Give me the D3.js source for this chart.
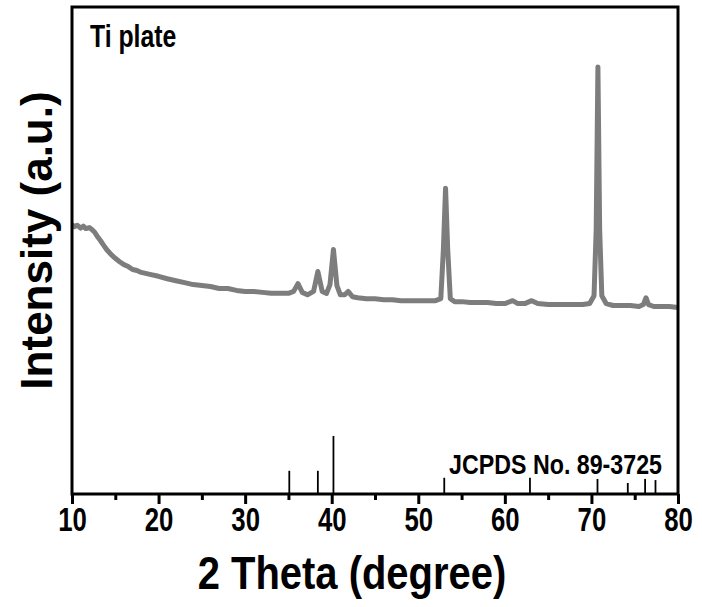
<!DOCTYPE html>
<html>
<head>
<meta charset="utf-8">
<script src="https://cdn.jsdelivr.net/npm/d3@7"></script>
<style>
  body { margin: 0; background: #fff; }
  text { font-family: "Liberation Sans", Arial, sans-serif; font-weight: bold; }
</style>
</head>
<body>
<svg id="chart" width="702" height="607"></svg>
<script>
"use strict";

//// data
const twoTheta = [10.0, 10.3, 10.6, 11.0, 11.3, 11.6, 12.0, 12.3, 12.6, 13.0, 13.3, 13.6, 14.0, 14.5, 15.0, 15.5, 16.0, 16.5, 17.0, 17.5, 18.0,
    19.0, 20.0, 21.0, 22.0, 23.0, 24.0, 25.0, 26.0, 27.0, 28.0, 29.0, 30.0, 31.0, 32.0, 33.0, 34.0, 35.0,
    35.6, 36.1, 36.6, 37.2, 37.9, 38.4, 38.9, 39.4, 39.8, 40.2, 40.6, 41.0, 41.5, 41.9, 42.4,
    43.0, 44.0, 45.0, 46.0, 47.0, 48.0, 49.0, 50.0, 51.0, 52.0, 52.6, 52.9, 53.15, 53.4, 53.7, 54.2,
    55.0, 56.0, 57.0, 58.0, 59.0, 60.0, 60.9, 61.5, 62.3, 63.1, 63.8, 65.0, 66.0, 67.0, 68.0, 69.0,
    69.8, 70.3, 70.55, 70.75, 70.95, 71.2, 71.7, 72.5, 73.5, 74.5, 75.5, 76.0, 76.3, 76.6, 77.2, 78.0, 79.0, 80.0];
const intensity = [553, 549, 552, 546, 550, 545, 547, 543, 538, 527, 520, 512, 502, 492, 484, 477, 471, 467, 461, 459, 455,
    451, 447, 442, 438, 434, 430, 428, 426, 422, 422, 418, 416, 416, 414, 412, 412, 412,
    416, 432, 414, 409, 416, 457, 416, 412, 430, 502, 428, 409, 409, 416, 405,
    403, 401, 401, 399, 399, 397, 397, 397, 397, 397, 401, 502, 628, 502, 401, 395,
    395, 393, 393, 393, 391, 391, 397, 391, 391, 397, 391, 389, 389, 389, 389, 389,
    391, 407, 543, 877, 543, 407, 391, 387, 387, 387, 385, 389, 403, 389, 385, 385, 385, 383];

// JCPDS No. 89-3725 reference lines (relative intensity)
const refAngles = [35.1, 38.4, 40.2, 53.0, 62.9, 70.7, 74.2, 76.2, 77.4];
const refIntensity = [40, 40, 100, 28, 28, 26, 19, 26, 24];

const xTicks = [10, 20, 30, 40, 50, 60, 70, 80];
const xMinorTicks = [15, 25, 35, 45, 55, 65, 75];

(function () {
    //// layout
    const svg = d3.select("#chart");
    const left = 72, right = 678, top = 7, bottom = 494;
    const narrow = 0.78; // condensed look of the bold labels

    const x = d3.scaleLinear().domain([10, 80]).range([left, right]);
    const y = d3.scaleLinear().domain([0, 1000]).range([bottom, top]);
    const yRef = d3.scaleLinear().domain([0, 100]).range([bottom, bottom - 58]);

    //// pattern curve
    const points = twoTheta.map(function(t, i) { return [t, intensity[i]]; });
    svg.append("path")
        .datum(points)
        .attr("fill", "none")
        .attr("stroke", "#7d7d7d")
        .attr("stroke-width", 5)
        .attr("stroke-linejoin", "round")
        .attr("d", d3.line().x(function(d) { return x(d[0]); }).y(function(d) { return y(d[1]); }));

    //// reference sticks
    svg.append("g")
        .selectAll("line")
        .data(refAngles)
        .enter().append("line")
            .attr("x1", function(d) { return x(d); })
            .attr("x2", function(d) { return x(d); })
            .attr("y1", yRef(0))
            .attr("y2", function(d, i) { return yRef(refIntensity[i]); })
            .attr("stroke", "#000")
            .attr("stroke-width", 1.8);

    //// axes
    svg.append("g")
        .attr("transform", "translate(0," + bottom + ")")
        .call(d3.axisBottom(x).tickValues(xMinorTicks).tickSize(6).tickFormat(""))
        .call(function(g) { g.select(".domain").remove(); })
        .selectAll("line").attr("stroke-width", 3);

    const xAxis = svg.append("g")
        .attr("transform", "translate(0," + bottom + ")")
        .call(d3.axisBottom(x).tickValues(xTicks).tickSize(10).tickPadding(4).tickFormat(d3.format("d")))
        .call(function(g) { g.select(".domain").remove(); });
    xAxis.selectAll("line").attr("stroke-width", 3);
    xAxis.selectAll("text")
        .attr("fill", "#000")
        .attr("transform", "scale(" + narrow + ",1)")
        .style("font-size", "33px");

    // frame
    svg.append("rect")
        .attr("x", left).attr("y", top)
        .attr("width", right - left).attr("height", bottom - top)
        .attr("fill", "none")
        .attr("stroke", "#000")
        .attr("stroke-width", 3);

    //// labels
    svg.append("text")
        .attr("transform", "translate(" + ((left + right) / 2 - 23) + ",589) scale(0.85,1)")
        .attr("text-anchor", "middle")
        .style("font-size", "47px")
        .text("2 Theta (degree)");

    svg.append("text")
        .attr("transform", "translate(52," + ((top + bottom) / 2 - 10) + ") rotate(-90)")
        .attr("text-anchor", "middle")
        .style("font-size", "44px")
        .text("Intensity (a.u.)");

    svg.append("text")
        .attr("transform", "translate(90,47) scale(0.8,1)")
        .style("font-size", "31px")
        .text("Ti plate");

    svg.append("text")
        .attr("transform", "translate(662,474) scale(0.86,1)")
        .attr("text-anchor", "end")
        .style("font-size", "27px")
        .text("JCPDS No. 89-3725");
})();
</script>
</body>
</html>
